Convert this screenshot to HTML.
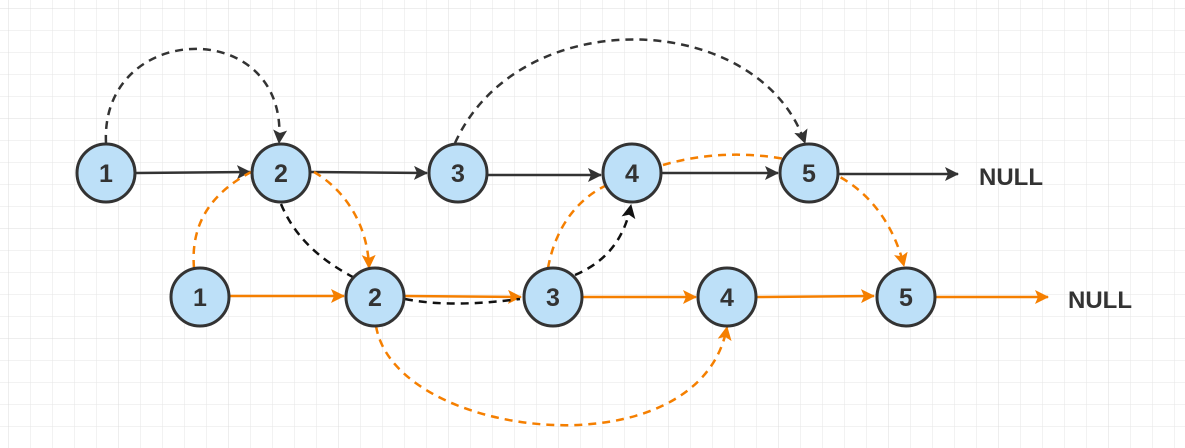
<!DOCTYPE html>
<html><head><meta charset="utf-8"><style>
html,body{margin:0;padding:0;background:#fff}
svg{display:block}
</style></head><body>
<svg width="1185" height="448" viewBox="0 0 1185 448" xmlns="http://www.w3.org/2000/svg">
<defs>
<pattern id="g" width="22" height="22" patternUnits="userSpaceOnUse" x="9" y="9">
<path d="M22 0V22H0" fill="none" stroke="#e6e6e6" stroke-width="1"/>
</pattern>
<pattern id="G" width="110" height="110" patternUnits="userSpaceOnUse" x="9" y="9">
<path d="M110 0V110H0" fill="none" stroke="#dcdcdc" stroke-width="1"/>
</pattern>
<marker id="ak" markerWidth="14" markerHeight="14" refX="13" refY="7" orient="auto" markerUnits="userSpaceOnUse" viewBox="0 0 14 14"><path d="M0 0L14 7L0 14L3 7Z" fill="#111"/></marker>
<marker id="ao" markerWidth="14" markerHeight="14" refX="13" refY="7" orient="auto" markerUnits="userSpaceOnUse" viewBox="0 0 14 14"><path d="M0 0L14 7L0 14L3 7Z" fill="#f57f00"/></marker>
<marker id="ad" markerWidth="14" markerHeight="14" refX="13" refY="7" orient="auto" markerUnits="userSpaceOnUse" viewBox="0 0 14 14"><path d="M0 0L14 7L0 14L3 7Z" fill="#333"/></marker>
</defs>
<rect width="1185" height="448" fill="url(#g)"/>
<rect width="1185" height="448" fill="url(#G)"/>

<g stroke="#333" stroke-width="2.5" fill="none">
<line x1="136" y1="173" x2="250" y2="172" marker-end="url(#ad)"/>
<line x1="311" y1="172" x2="427" y2="173" marker-end="url(#ad)"/>
<line x1="488" y1="175" x2="601" y2="175" marker-end="url(#ad)"/>
<line x1="662" y1="173" x2="778" y2="173" marker-end="url(#ad)"/>
<line x1="839" y1="174" x2="958" y2="174" marker-end="url(#ad)"/>
</g>
<g stroke="#f57f00" stroke-width="2.5" fill="none">
<line x1="230" y1="296" x2="344" y2="296" marker-end="url(#ao)"/>
<line x1="405" y1="296" x2="521" y2="297" marker-end="url(#ao)"/>
<line x1="583" y1="297" x2="696" y2="297" marker-end="url(#ao)"/>
<line x1="757" y1="297" x2="874" y2="296" marker-end="url(#ao)"/>
<line x1="936" y1="297" x2="1048" y2="297" marker-end="url(#ao)"/>
</g>

<g stroke="#333" stroke-width="2.5" fill="none" stroke-dasharray="8,6">
<path d="M106 143 C100 20, 290 15, 279 143" marker-end="url(#ad)"/>
<path d="M455 143 C520 0, 760 10, 805 143" marker-end="url(#ad)"/>
</g>
<g stroke="#111" stroke-width="2.5" fill="none" stroke-dasharray="8,6">
<path d="M281 204 C300 250, 340 270, 360 281"/>
<path d="M405 299 C440 306, 480 304, 520 299"/>
<path d="M575 275 C610 260, 625 235, 631 205" marker-end="url(#ak)"/>
</g>
<g stroke="#f57f00" stroke-width="2.5" fill="none" stroke-dasharray="8,6">
<path d="M194 268 C190 220, 215 190, 255 170"/>
<path d="M314 172 C345 190, 368 225, 369 268" marker-end="url(#ao)"/>
<path d="M548 268 C555 230, 575 200, 607 185"/>
<path d="M663 165 C720 148, 790 152, 840 177 C875 197, 895 230, 904 266" marker-end="url(#ao)"/>
<path d="M376 326 C395 440, 700 475, 727 327" marker-end="url(#ao)"/>
</g>

<g fill="#bde0f8" stroke="#333" stroke-width="3">
<circle cx="106" cy="173" r="29"/>
<circle cx="281" cy="173" r="29"/>
<circle cx="458" cy="173" r="29"/>
<circle cx="632" cy="173" r="29"/>
<circle cx="809" cy="173" r="29"/>
<circle cx="200" cy="297" r="29"/>
<circle cx="375" cy="297" r="29"/>
<circle cx="553" cy="297" r="29"/>
<circle cx="727" cy="297" r="29"/>
<circle cx="906" cy="297" r="29"/>
</g>
<g font-family="Liberation Sans, sans-serif" font-weight="bold" font-size="25" fill="#333" text-anchor="middle">
<text x="106" y="182">1</text>
<text x="281" y="182">2</text>
<text x="458" y="182">3</text>
<text x="632" y="182">4</text>
<text x="809" y="182">5</text>
<text x="200" y="306">1</text>
<text x="375" y="306">2</text>
<text x="553" y="306">3</text>
<text x="727" y="306">4</text>
<text x="906" y="306">5</text>
</g>
<g font-family="Liberation Sans, sans-serif" font-weight="bold" font-size="24" fill="#333">
<text x="979" y="185">NULL</text>
<text x="1068" y="308">NULL</text>
</g>
</svg>
</body></html>
